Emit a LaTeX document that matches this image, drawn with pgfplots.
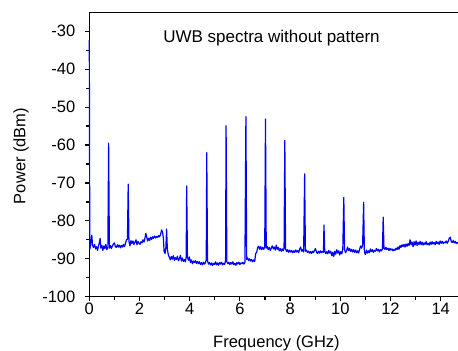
\documentclass[border=0pt]{standalone}
\usepackage{fontspec}
\setmainfont{Liberation Sans}
\usepackage{pgfplots}
\pgfplotsset{compat=1.18}
\usetikzlibrary{calc}
\begin{document}
\fontsize{16.5bp}{19bp}\selectfont
\begin{tikzpicture}
\begin{axis}[
 scale only axis,
 width=369.4bp, height=284bp,
 xmin=0, xmax=14.718, ymin=-100, ymax=-25.1,
 axis line style={black, line width=1.3bp},
 tick align=outside, xtick pos=left, ytick pos=left,
 major tick length=4.5bp, minor tick length=3bp,
 tick style={black, line width=1.2bp},
 xtick={0,2,...,14}, ytick={-100,-90,...,-30},
 minor x tick num=1, minor y tick num=1,
 /pgf/number format/assume math mode=true,
 xticklabel style={inner sep=0pt, yshift=-1.6bp},
 yticklabel style={inner sep=0pt, xshift=-9.3bp},
 clip=false,
]
\addplot[blue, line width=1.2bp, line join=round] coordinates {
(0,-32.3)(0.02,-87.5)(0.06,-86)(0.1,-83.8)(0.13,-86.5)(0.17,-87)(0.21,-86.2)(0.25,-87.4)(0.29,-86.8)(0.33,-87.8)(0.37,-86.5)(0.41,-85.5)(0.43,-84.6)(0.46,-87.2)(0.5,-86.4)(0.54,-87.8)(0.58,-86.6)(0.62,-87.3)(0.66,-86.2)(0.7,-87.6)(0.74,-87.0)(0.77,-59.5)(0.80,-87.2)(0.84,-86.5)(0.88,-87.3)(0.92,-86.6)(0.96,-86.1)(1.0,-85.8)(1.04,-86.8)(1.08,-87.0)(1.12,-86.3)(1.16,-86.9)(1.2,-86.4)(1.24,-87.1)(1.28,-86.5)(1.32,-86.9)(1.36,-86.2)(1.40,-86.8)(1.44,-86.0)(1.48,-85.0)(1.52,-84.8)(1.55,-70.3)(1.58,-85.5)(1.62,-86.6)(1.66,-85.2)(1.70,-86.0)(1.74,-85.3)(1.78,-86.2)(1.82,-85.6)(1.86,-85.0)(1.90,-86.3)(1.94,-85.4)(1.98,-85.9)(2.02,-86.2)(2.06,-85.5)(2.10,-85.8)(2.14,-85.0)(2.18,-85.6)(2.22,-84.5)(2.25,-83.3)(2.28,-84.0)(2.32,-85.3)(2.36,-84.6)(2.40,-85.2)(2.44,-84.3)(2.48,-84.9)(2.52,-84.2)(2.56,-84.6)(2.60,-84.0)(2.64,-84.5)(2.68,-84.1)(2.72,-84.4)(2.76,-83.9)(2.80,-84.2)(2.84,-83.6)(2.88,-82.4)(2.92,-83.0)(2.95,-84.5)(2.98,-88.1)(3.02,-88.6)(3.05,-87.0)(3.08,-82.2)(3.11,-87.5)(3.15,-89.0)(3.19,-89.6)(3.23,-90.3)(3.27,-89.4)(3.31,-90.1)(3.35,-89.2)(3.39,-90.4)(3.43,-89.7)(3.47,-90.2)(3.51,-89.3)(3.55,-90.5)(3.59,-90.0)(3.63,-89.1)(3.67,-90.6)(3.71,-89.8)(3.75,-90.7)(3.79,-90.2)(3.83,-90.8)(3.86,-89.5)(3.88,-70.8)(3.91,-89.6)(3.95,-90.4)(3.99,-89.5)(4.03,-91.0)(4.07,-90.3)(4.11,-91.3)(4.15,-90.6)(4.19,-91.0)(4.23,-90.5)(4.27,-91.2)(4.31,-90.7)(4.35,-91.3)(4.39,-90.8)(4.43,-91.5)(4.47,-91.0)(4.51,-91.6)(4.55,-90.9)(4.59,-91.4)(4.63,-91.0)(4.66,-90.2)(4.68,-62.0)(4.71,-90.5)(4.75,-91.4)(4.79,-91.0)(4.83,-91.6)(4.87,-91.1)(4.91,-91.8)(4.95,-91.2)(4.99,-91.5)(5.03,-90.8)(5.07,-91.6)(5.11,-91.1)(5.15,-91.7)(5.19,-91.0)(5.23,-91.4)(5.27,-90.9)(5.31,-91.6)(5.35,-91.2)(5.39,-91.5)(5.43,-90.5)(5.45,-54.9)(5.48,-90.8)(5.52,-91.3)(5.56,-90.9)(5.60,-91.5)(5.64,-91.0)(5.68,-91.4)(5.72,-90.8)(5.76,-91.6)(5.80,-91.2)(5.84,-91.7)(5.88,-91.0)(5.92,-91.4)(5.96,-90.9)(6.00,-91.5)(6.04,-91.1)(6.08,-91.3)(6.12,-90.9)(6.16,-91.4)(6.20,-91.0)(6.24,-52.5)(6.27,-90.2)(6.31,-89.8)(6.35,-90.5)(6.39,-90.0)(6.43,-90.6)(6.47,-90.2)(6.51,-90.8)(6.55,-90.3)(6.59,-90.7)(6.63,-88.6)(6.67,-88.3)(6.71,-87.0)(6.75,-86.7)(6.79,-87.5)(6.83,-86.8)(6.87,-87.6)(6.91,-87.0)(6.95,-87.5)(6.99,-86.9)(7.02,-53.1)(7.05,-87.2)(7.09,-86.8)(7.13,-87.6)(7.17,-87.0)(7.21,-87.8)(7.25,-87.2)(7.29,-86.6)(7.33,-87.4)(7.37,-86.9)(7.41,-87.7)(7.45,-86.4)(7.49,-87.5)(7.53,-87.0)(7.57,-87.9)(7.61,-87.3)(7.65,-88.0)(7.69,-87.4)(7.73,-87.9)(7.76,-87.1)(7.79,-58.8)(7.82,-87.4)(7.86,-88.1)(7.90,-87.6)(7.94,-88.3)(7.98,-87.7)(8.02,-88.2)(8.06,-87.8)(8.10,-88.4)(8.14,-87.9)(8.18,-88.3)(8.22,-87.7)(8.26,-88.2)(8.30,-87.8)(8.34,-88.4)(8.38,-87.5)(8.42,-86.9)(8.46,-88.0)(8.50,-87.6)(8.54,-88.2)(8.58,-67.6)(8.61,-88.0)(8.65,-87.7)(8.69,-88.3)(8.73,-88.0)(8.77,-88.5)(8.81,-88.1)(8.85,-88.6)(8.89,-88.0)(8.93,-88.4)(8.97,-87.8)(9.01,-87.3)(9.05,-88.2)(9.09,-88.6)(9.13,-88.0)(9.17,-88.5)(9.21,-87.9)(9.25,-88.4)(9.29,-88.1)(9.33,-88.3)(9.35,-81.1)(9.38,-88.0)(9.42,-88.6)(9.46,-88.1)(9.50,-88.7)(9.54,-87.8)(9.58,-88.5)(9.62,-88.0)(9.66,-89.2)(9.70,-88.3)(9.74,-89.4)(9.78,-88.0)(9.82,-88.8)(9.86,-87.6)(9.90,-88.5)(9.94,-87.9)(9.98,-89.0)(10.02,-88.1)(10.06,-88.7)(10.10,-87.5)(10.14,-73.8)(10.17,-87.6)(10.21,-88.4)(10.25,-87.9)(10.29,-86.9)(10.33,-87.8)(10.37,-87.3)(10.41,-88.1)(10.45,-87.5)(10.49,-88.2)(10.53,-87.6)(10.57,-88.3)(10.61,-87.7)(10.65,-88.4)(10.69,-87.9)(10.73,-88.5)(10.77,-87.5)(10.81,-86.6)(10.85,-87.2)(10.89,-86.4)(10.93,-75.1)(10.96,-88.2)(11.00,-88.9)(11.04,-87.7)(11.08,-88.5)(11.12,-87.9)(11.16,-88.4)(11.20,-87.4)(11.24,-88.1)(11.28,-87.6)(11.32,-88.3)(11.36,-87.8)(11.40,-88.0)(11.44,-87.3)(11.48,-87.9)(11.52,-87.5)(11.56,-88.2)(11.60,-87.6)(11.64,-87.9)(11.68,-87.4)(11.71,-79.0)(11.74,-87.2)(11.78,-87.5)(11.82,-87.0)(11.86,-87.6)(11.90,-87.2)(11.94,-87.8)(11.98,-87.3)(12.02,-87.7)(12.06,-87.4)(12.10,-87.9)(12.14,-87.5)(12.18,-87.8)(12.22,-87.2)(12.26,-87.6)(12.30,-86.9)(12.34,-87.5)(12.38,-86.5)(12.42,-87.0)(12.46,-86.3)(12.50,-86.8)(12.54,-86.2)(12.58,-86.9)(12.62,-86.1)(12.66,-86.7)(12.70,-86.0)(12.74,-86.5)(12.78,-85.0)(12.82,-86.3)(12.86,-85.6)(12.90,-86.8)(12.94,-85.5)(12.98,-86.4)(13.02,-85.3)(13.06,-86.5)(13.10,-85.7)(13.14,-86.2)(13.18,-85.4)(13.22,-86.3)(13.26,-85.6)(13.30,-86.4)(13.34,-85.8)(13.38,-86.2)(13.42,-85.5)(13.46,-86.3)(13.50,-85.9)(13.54,-86.4)(13.58,-85.6)(13.62,-86.2)(13.66,-85.5)(13.70,-86.1)(13.74,-85.7)(13.78,-86.3)(13.82,-85.4)(13.86,-86.0)(13.90,-85.6)(13.94,-86.2)(13.98,-85.3)(14.02,-85.9)(14.06,-85.4)(14.10,-86.0)(14.14,-85.6)(14.18,-85.8)(14.22,-85.3)(14.26,-85.9)(14.30,-85.4)(14.34,-84.6)(14.38,-84.3)(14.42,-85.4)(14.46,-85.7)(14.50,-85.2)(14.54,-85.8)(14.58,-85.4)(14.62,-86.0)(14.66,-85.7)(14.69,-85.9)
};
\coordinate (sw) at (rel axis cs:0,0);
\coordinate (ne) at (rel axis cs:1,1);
\node[anchor=base, font=\fontsize{17bp}{20bp}\selectfont] at (axis cs:7.26,-33.0) {UWB spectra without pattern};
\end{axis}
\node[anchor=base, inner sep=0pt] at ($(sw)+(187.2bp,-50.3bp)$) {Frequency (GHz)};
\node[anchor=base, inner sep=0pt, rotate=90] at ($(sw)+(-64bp,140.8bp)$) {Power (dBm)};
\pgfresetboundingbox
\path[use as bounding box] ($(sw)+(-89.3bp,-54.3bp)$) rectangle ($(ne)+(-0.7bp,12.7bp)$);
\end{tikzpicture}
\end{document}
